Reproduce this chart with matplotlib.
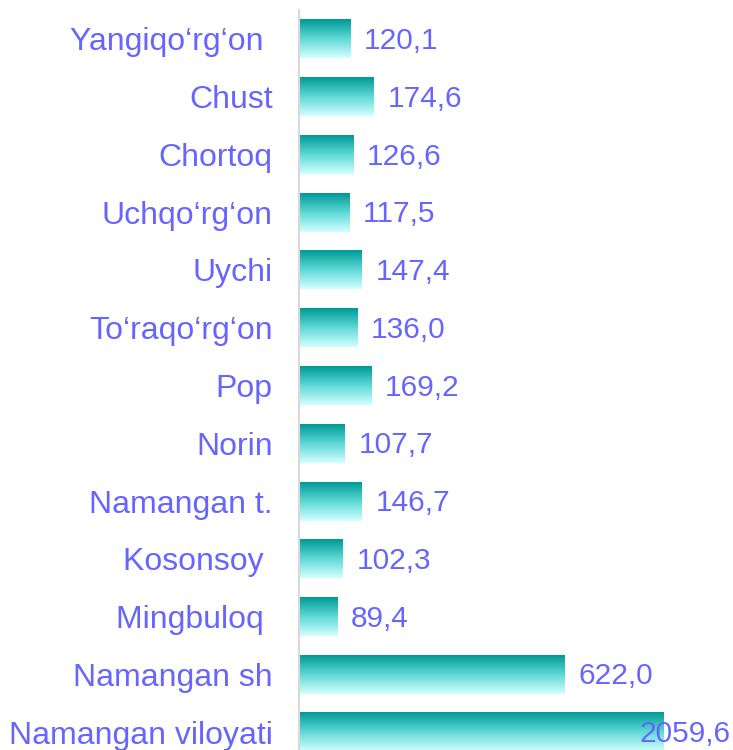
import matplotlib
matplotlib.use("Agg")
import matplotlib.pyplot as plt
import numpy as np
from matplotlib.colors import LinearSegmentedColormap

categories = ["Yangiqo‘rg‘on ", "Chust", "Chortoq", "Uchqo‘rg‘on", "Uychi",
              "To‘raqo‘rg‘on", "Pop", "Norin", "Namangan t.", "Kosonsoy ",
              "Mingbuloq ", "Namangan sh", "Namangan viloyati"]
values = [120.1, 174.6, 126.6, 117.5, 147.4, 136.0, 169.2, 107.7, 146.7,
          102.3, 89.4, 622.0, 2059.6]
labels = ["120,1", "174,6", "126,6", "117,5", "147,4", "136,0", "169,2",
          "107,7", "146,7", "102,3", "89,4", "622,0", "2059,6"]

plt.rcParams['font.family'] = ['Liberation Sans', 'DejaVu Sans']
W, H = 733, 750
fig = plt.figure(figsize=(W / 100, H / 100), dpi=100)
ax = fig.add_axes([299 / W, 0, (664 - 299) / W, (750 - 10) / H])

txt_color = "#6666ff"
xmax = 855
n = len(categories)
pos = np.arange(n)
bars = ax.barh(pos, values, height=0.675, color="none", edgecolor="none")

cmap = LinearSegmentedColormap.from_list("g", ["#009a96", "#5fd9d6", "#d2ffff"])
grad = np.linspace(0, 1, 64).reshape(-1, 1)
for b in bars:
    x0, y0 = b.get_x(), b.get_y()
    w, h = b.get_width(), b.get_height()
    x1 = min(x0 + w, xmax)
    ax.imshow(grad, cmap=cmap, aspect="auto",
              extent=(x0, x1, y0 + h, y0), origin="upper",
              interpolation="bicubic", zorder=2)

ax.set_xlim(0, xmax)
ax.set_ylim(n - 1 + 0.31, -0.5)

for i, (v, lab) in enumerate(zip(values, labels)):
    if v > xmax:
        ax.annotate(lab, xy=(xmax, i), xytext=(-17.5, -1.5), textcoords="offset points",
                    ha="left", va="center", fontsize=21.5, color=txt_color,
                    annotation_clip=False, zorder=5)
    else:
        ax.annotate(lab, xy=(v, i), xytext=(10, -1.5), textcoords="offset points",
                    ha="left", va="center", fontsize=21.5, color=txt_color, zorder=5)

ax.set_yticks(pos)
ax.set_yticklabels(categories, fontsize=23, color=txt_color)
ax.tick_params(axis="y", length=0, pad=19)
ax.set_xticks([])
for s in ["top", "right", "bottom"]:
    ax.spines[s].set_visible(False)
ax.spines["left"].set_color("#d9d9d9")
ax.spines["left"].set_linewidth(1.5)
ax.set_facecolor("none")

fig.savefig("out.png", dpi=100)
